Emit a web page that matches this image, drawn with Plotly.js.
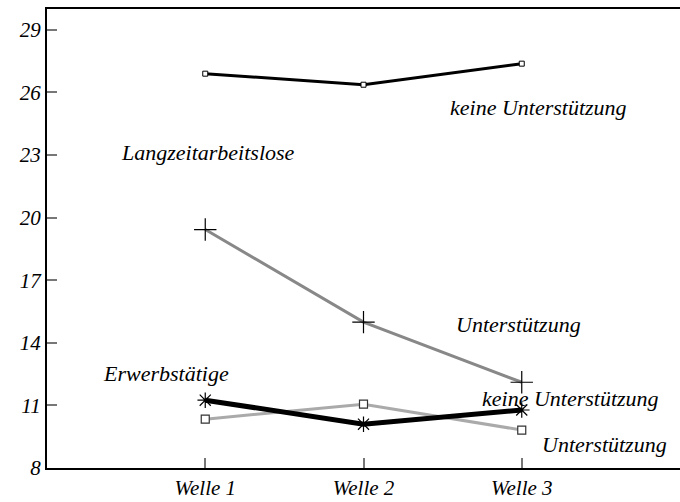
<!DOCTYPE html>
<html>
<head>
<meta charset="utf-8">
<script src="https://cdn.plot.ly/plotly-3.0.1.min.js"></script>
<style>
html,body{margin:0;padding:0;background:#fff;}
#chart{width:680px;height:502px;}
#chart svg text{font-family:"Liberation Serif","Times New Roman",serif !important;font-style:italic !important;}
</style>
</head>
<body>
<div id="chart"></div>
<script>
const waves = [1, 2, 3];
const waveLabels = ["Welle 1", "Welle 2", "Welle 3"];
const yTicks = [8, 11, 14, 17, 20, 23, 26, 29];

const lzKeine = [26.9, 26.37, 27.38];
const lzUnterst = [19.43, 14.99, 12.11];
const ewKeine = [11.25, 10.1, 10.78];
const ewUnterst = [10.34, 11.06, 9.82];

const labelTexts = ["keine Unterstützung", "Langzeitarbeitslose", "Unterstützung", "Erwerbstätige", "keine Unterstützung", "Unterstützung"];
const labelX = [3.108, 1.019, 2.98, 0.753, 3.31, 3.52];
const labelY = [25.27, 23.12, 14.89, 12.55, 11.35, 9.15];

const tickFont = {family: "Liberation Serif", size: 21, color: "#000", style: "italic"};
const annFont = {family: "Liberation Serif", size: 22, color: "#000", style: "italic"};

const traces = [
  {x: waves, y: lzUnterst, mode: "lines+markers", line: {color: "#888888", width: 3},
   marker: {symbol: "cross-thin", size: 16, line: {color: "#000", width: 1.2}}},
  {x: waves, y: ewUnterst, mode: "lines+markers", line: {color: "#aaaaaa", width: 3},
   marker: {symbol: "square", size: 8, color: "#fff", line: {color: "#333", width: 1.2}}},
  {x: waves, y: ewKeine, mode: "lines+markers", line: {color: "#000", width: 5},
   marker: {symbol: "asterisk-open", size: 13, line: {color: "#000", width: 1.2}}},
  {x: waves, y: lzKeine, mode: "lines+markers", line: {color: "#000", width: 3},
   marker: {symbol: "square", size: 5, color: "#fff", line: {color: "#000", width: 1}}}
];

const annotations = labelTexts.map((t, i) => ({
  x: labelX[i], y: labelY[i], xref: "x", yref: "y", text: t,
  showarrow: false, font: annFont, xanchor: "center", yanchor: "middle"
}));

const layout = {
  width: 680, height: 502,
  margin: {l: 47, r: 0, t: 9, b: 34},
  paper_bgcolor: "#fff", plot_bgcolor: "#fff",
  showlegend: false,
  xaxis: {range: [0, 4], tickvals: waves, ticktext: waveLabels,
    showgrid: false, zeroline: false, showline: true, mirror: true, linecolor: "#000", linewidth: 2,
    ticks: "inside", ticklen: 10, tickcolor: "#777", tickwidth: 1.5, tickfont: tickFont},
  yaxis: {range: [8, 30], tickvals: yTicks, ticktext: yTicks.map(String),
    showgrid: false, zeroline: false, showline: true, linecolor: "#000", linewidth: 2,
    ticks: "inside", ticklen: 10, tickcolor: "#777", tickwidth: 1.5, tickfont: tickFont},
  annotations: annotations
};

Plotly.newPlot("chart", traces, layout, {displayModeBar: false});
</script>
</body>
</html>
